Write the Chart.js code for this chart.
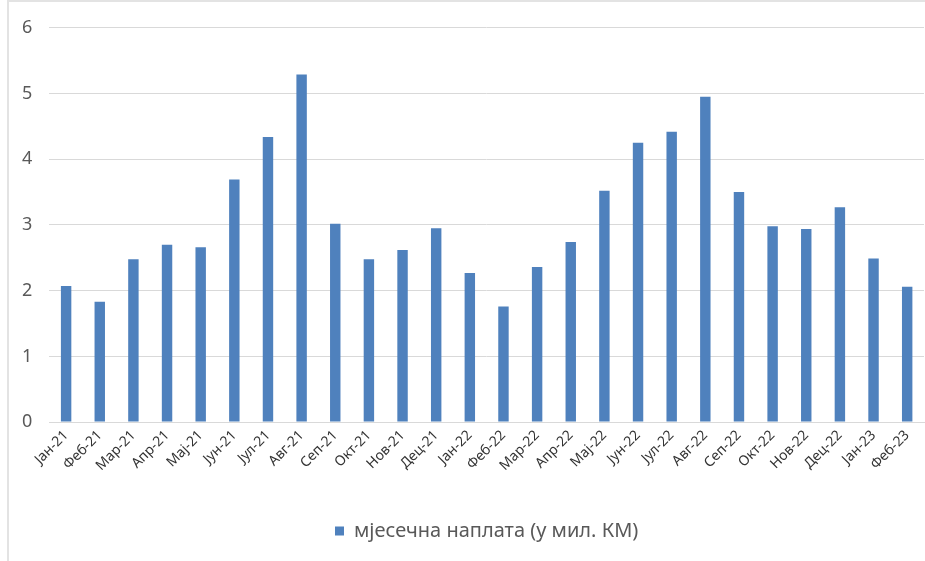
<!DOCTYPE html>
<html>
<head>
<meta charset="utf-8">
<script src="https://cdn.jsdelivr.net/npm/chart.js@4.4.0/dist/chart.umd.min.js"></script>
<style>
  html, body { margin: 0; padding: 0; background: #fff; }
  #wrap { position: relative; width: 925px; height: 561px; }
  #frame { position: absolute; left: 7px; top: 0; width: 930px; height: 570px;
           border-left: 2px solid #e3e3e3; border-top: 2px solid #e3e3e3; box-sizing: border-box; }
  canvas { position: absolute; left: 0; top: 0; }
</style>
</head>
<body>
<div id="wrap">
  <div id="frame"></div>
  <canvas id="chart" width="925" height="561"></canvas>
</div>
<script>
// Категорије (мјесеци)
const mjeseci = [
  "Јан-21", "Феб-21", "Мар-21", "Апр-21", "Мај-21", "Јун-21", "Јул-21", "Авг-21",
  "Сеп-21", "Окт-21", "Нов-21", "Дец-21", "Јан-22", "Феб-22", "Мар-22", "Апр-22",
  "Мај-22", "Јун-22", "Јул-22", "Авг-22", "Сеп-22", "Окт-22", "Нов-22", "Дец-22",
  "Јан-23", "Феб-23"
];

// мјесечна наплата (у мил. КМ)
const naplata = [
  2.07, 1.83, 2.48, 2.70, 2.66, 3.69, 4.34, 5.29,
  3.02, 2.48, 2.62, 2.95, 2.27, 1.76, 2.36, 2.74,
  3.52, 4.25, 4.42, 4.95, 3.50, 2.98, 2.94, 3.27,
  2.49, 2.06
];

const yTicks = [0, 1, 2, 3, 4, 5, 6];

const ctx = document.getElementById("chart");
new Chart(ctx, {
  type: "bar",
  data: {
    labels: mjeseci,
    datasets: [
      {
        label: "мјесечна наплата (у мил. КМ)",
        data: naplata,
        backgroundColor: "#4f81bd",
        borderWidth: 0,
        categoryPercentage: 1.0,
        barPercentage: 0.31
      }
    ]
  },
  options: {
    responsive: false,
    animation: false,
    layout: { padding: { top: 15, right: 1, left: 5, bottom: 10 } },
    plugins: {
      legend: {
        position: "bottom",
        fullSize: false,
        labels: {
          color: "#595959",
          font: { family: "'Noto Sans', sans-serif", size: 20 },
          boxWidth: 9,
          boxHeight: 9,
          padding: 18
        }
      },
      tooltip: { enabled: false }
    },
    scales: {
      x: {
        grid: { display: false, drawTicks: false },
        border: { color: "#d9d9d9" },
        afterFit: axis => { axis.height += 24; },
        ticks: {
          color: "#333",
          font: { family: "'Noto Sans', sans-serif", size: 14 },
          minRotation: 45,
          maxRotation: 45,
          padding: 5,
          autoSkip: false
        }
      },
      y: {
        min: 0,
        max: 6,
        afterBuildTicks: axis => { axis.ticks = yTicks.map(v => ({ value: v })); },
        grid: { color: "#d9d9d9", lineWidth: 1, drawTicks: false },
        border: { display: false },
        ticks: {
          color: "#595959",
          font: { family: "'Noto Sans', sans-serif", size: 18 },
          padding: 17
        }
      }
    }
  }
});
</script>
</body>
</html>
